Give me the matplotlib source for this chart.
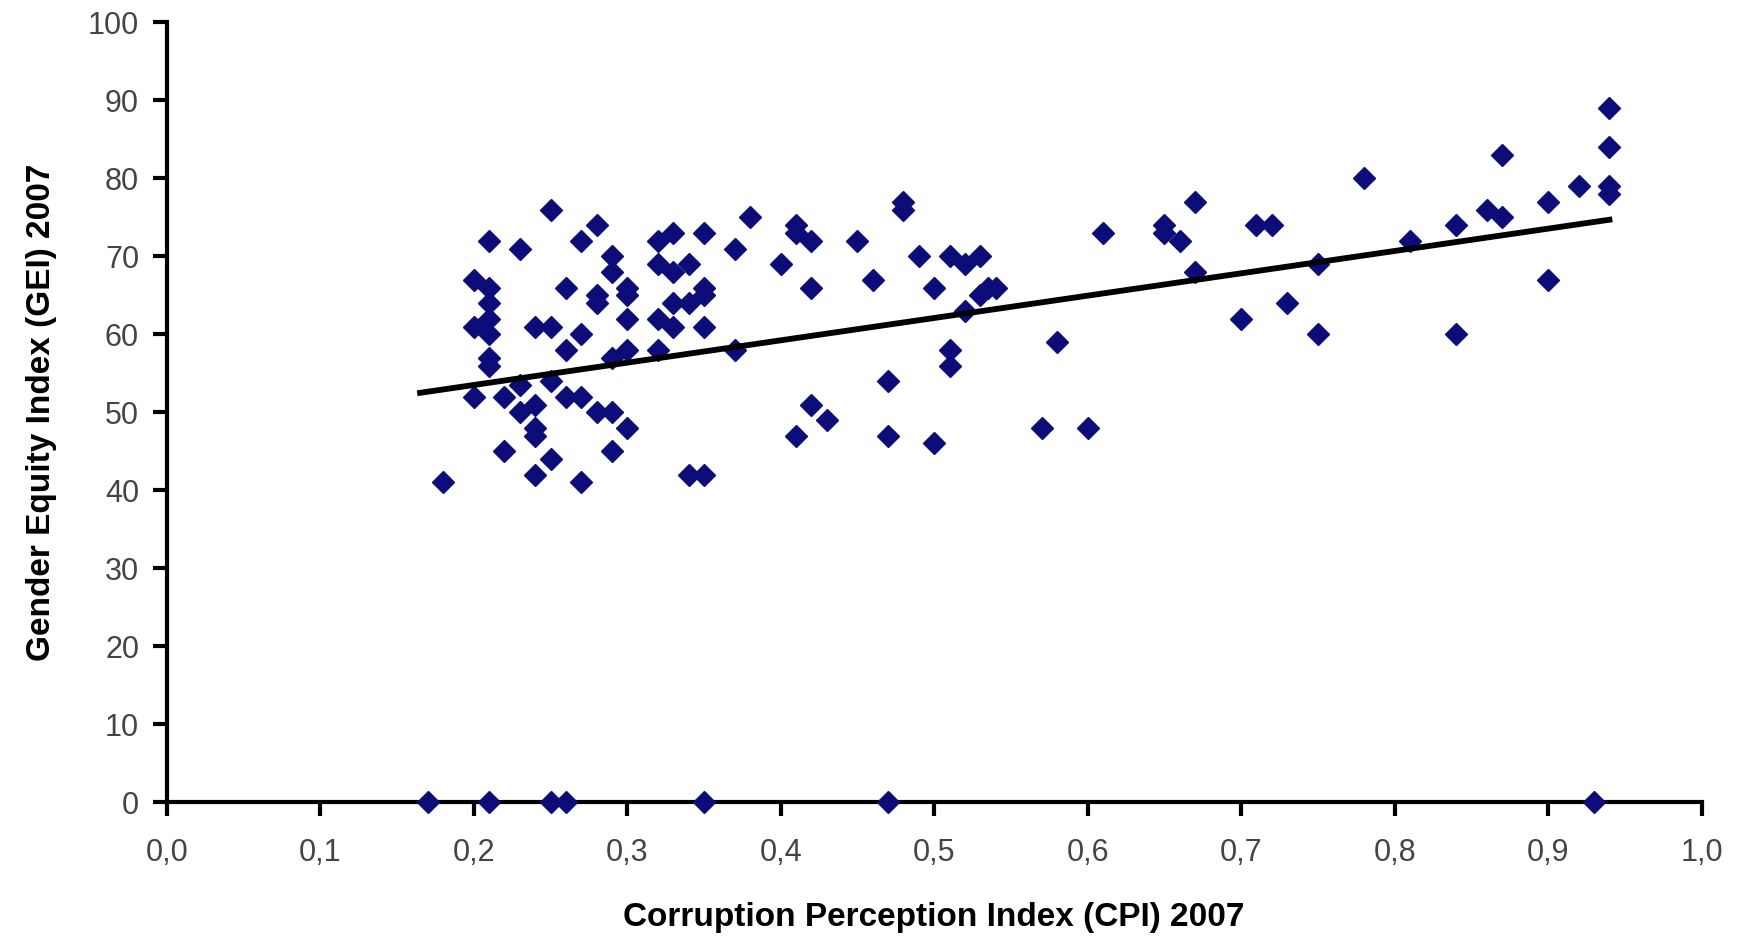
import matplotlib.pyplot as plt

plt.rcParams['font.family'] = ['Liberation Sans', 'DejaVu Sans']

# Corruption Perception Index (x) and Gender Equity Index (y), 2007
cpi = [0.17, 0.21, 0.25, 0.26, 0.35, 0.47, 0.93,
       0.18, 0.20, 0.20, 0.20, 0.21, 0.21, 0.21, 0.21, 0.21, 0.21, 0.21,
       0.22, 0.22, 0.23, 0.23, 0.23, 0.24, 0.24, 0.24, 0.24, 0.24,
       0.25, 0.25, 0.25, 0.25, 0.26, 0.26, 0.26,
       0.27, 0.27, 0.27, 0.27, 0.28, 0.28, 0.28, 0.28,
       0.29, 0.29, 0.29, 0.29, 0.29, 0.30, 0.30, 0.30, 0.30, 0.30,
       0.32, 0.32, 0.32, 0.32, 0.33, 0.33, 0.33, 0.33,
       0.34, 0.34, 0.34, 0.35, 0.35, 0.35, 0.35, 0.35,
       0.37, 0.37, 0.38, 0.40, 0.41, 0.41, 0.41, 0.42, 0.42, 0.42, 0.43,
       0.45, 0.46, 0.47, 0.47, 0.48, 0.48, 0.49, 0.50, 0.50,
       0.51, 0.51, 0.51, 0.52, 0.52, 0.53, 0.53, 0.535, 0.54,
       0.57, 0.58, 0.60, 0.61, 0.65, 0.65, 0.66, 0.67, 0.67,
       0.70, 0.71, 0.72, 0.73, 0.75, 0.75, 0.78, 0.81, 0.84, 0.84,
       0.86, 0.87, 0.87, 0.90, 0.90, 0.92, 0.94, 0.94, 0.94, 0.94]
gei = [0, 0, 0, 0, 0, 0, 0,
       41, 67, 61, 52, 72, 66, 64, 62, 60, 57, 56,
       52, 45, 71, 53.5, 50, 48, 47, 42, 51, 61,
       76, 61, 44, 54, 66, 58, 52,
       72, 60, 52, 41, 74, 65, 64, 50,
       70, 68, 57, 50, 45, 66, 65, 62, 58, 48,
       72, 69, 62, 58, 73, 68, 64, 61,
       69, 64, 42, 73, 66, 65, 61, 42,
       71, 58, 75, 69, 74, 73, 47, 72, 66, 51, 49,
       72, 67, 54, 47, 77, 76, 70, 66, 46,
       70, 58, 56, 69, 63, 65, 70, 66, 66,
       48, 59, 48, 73, 74, 73, 72, 77, 68,
       62, 74, 74, 64, 69, 60, 80, 72, 74, 60,
       76, 75, 83, 77, 67, 79, 89, 84, 79, 78]

# Linear trend line end points
trend_x = [0.165, 0.94]
trend_y = [52.5, 74.7]

x_ticks = [0.0, 0.1, 0.2, 0.3, 0.4, 0.5, 0.6, 0.7, 0.8, 0.9, 1.0]
y_ticks = [0, 10, 20, 30, 40, 50, 60, 70, 80, 90, 100]

fig = plt.figure(figsize=(17.38, 9.36), dpi=100)
ax = fig.add_axes([0.096, 0.143, 0.883, 0.833])

ax.plot(cpi, gei, linestyle='none', marker='D', markersize=11.5,
        color='#0d0d7a', markeredgecolor='#0d0d7a', clip_on=False, zorder=3)
ax.plot(trend_x, trend_y, color='black', linewidth=4.2, zorder=4)

ax.set_xlim(0, 1.0)
ax.set_ylim(0, 100)
ax.set_xticks(x_ticks)
ax.set_xticklabels([f"{t:.1f}".replace('.', ',') for t in x_ticks])
ax.set_yticks(y_ticks)

for s in ['top', 'right']:
    ax.spines[s].set_visible(False)
for s in ['left', 'bottom']:
    ax.spines[s].set_linewidth(3)

ax.tick_params(axis='both', direction='out', length=10, width=3,
               labelsize=22, labelcolor='#444444', pad=10)
ax.tick_params(axis='x', pad=16)

ax.set_xlabel('Corruption Perception Index (CPI) 2007', fontsize=24,
              fontweight='bold', labelpad=24)
ax.set_ylabel('Gender Equity Index (GEI) 2007', fontsize=24,
              fontweight='bold', labelpad=22)

plt.savefig('out.png', dpi=100)
